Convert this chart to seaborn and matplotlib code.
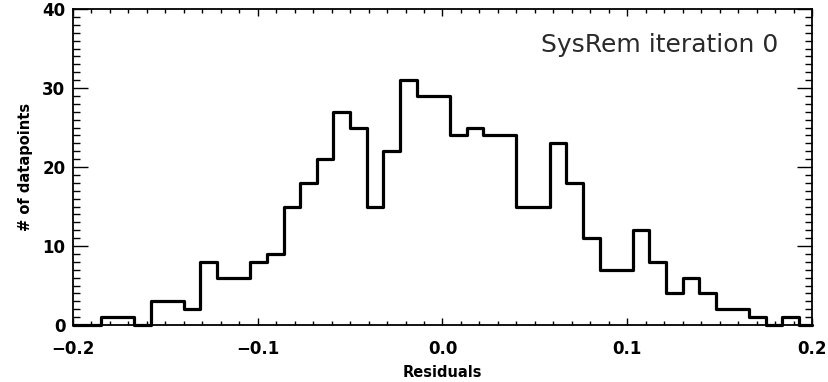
import numpy as np
import pandas as pd
import matplotlib
matplotlib.use("Agg")
import matplotlib.pyplot as plt
import seaborn as sns
from matplotlib.ticker import MultipleLocator

# ---- data ----
bin_start = -0.185
bin_width = 0.009
counts = [1, 1, 0, 3, 3, 2, 8, 6, 6, 8, 9, 15, 18, 21, 27, 25, 15, 22, 31, 29,
          29, 24, 25, 24, 24, 15, 15, 23, 18, 11, 7, 7, 12, 8, 4, 6, 4, 2, 2, 1,
          0, 1]
x_ticks = [-0.2, -0.1, 0.0, 0.1, 0.2]
x_ticklabels = ["\u22120.2", "\u22120.1", "0.0", "0.1", "0.2"]
y_ticks = [0, 10, 20, 30, 40]
title_text = "SysRem iteration 0"
xlabel = "Residuals"
ylabel = "# of datapoints"

inner_edges = bin_start + bin_width * np.arange(len(counts) + 1)
edges = [float(v) for v in np.concatenate([[x_ticks[0]], inner_edges, [x_ticks[-1]]])]
all_counts = [0] + counts + [0]
centers = [(a + b) / 2 for a, b in zip(edges[:-1], edges[1:])]
df = pd.DataFrame({"residual": centers, "n": all_counts})

sns.set_style("ticks")
plt.rcParams["font.family"] = ["DejaVu Sans"]
plt.rcParams["text.color"] = "black"
plt.rcParams["axes.labelcolor"] = "black"
plt.rcParams["xtick.color"] = "black"
plt.rcParams["ytick.color"] = "black"

fig = plt.figure(figsize=(8.29, 3.82), dpi=100)
ax = fig.add_axes([73 / 829, 1 - 325 / 382, (812 - 73) / 829, (325 - 9) / 382])

sns.histplot(data=df, x="residual", weights="n", bins=edges, element="step",
             fill=False, color="black", linewidth=2.3, ax=ax)
for coll in ax.collections + ax.lines + ax.patches:
    coll.set_clip_on(False)

ax.set_xlim(x_ticks[0], x_ticks[-1])
ax.set_ylim(y_ticks[0], y_ticks[-1])
ax.set_xticks(x_ticks)
ax.set_xticklabels(x_ticklabels)
ax.set_yticks(y_ticks)
ax.xaxis.set_minor_locator(MultipleLocator(0.01))
ax.yaxis.set_minor_locator(MultipleLocator(1))

for s in ax.spines.values():
    s.set_visible(True)
    s.set_linewidth(1.3)
    s.set_color("black")

ax.tick_params(axis="both", which="both", direction="in", top=True, right=True,
               color="black", labelcolor="black", width=1.0)
ax.tick_params(axis="x", which="major", length=5, pad=11)
ax.tick_params(axis="x", which="minor", length=3)
ax.tick_params(axis="y", which="major", length=11, pad=5.5)
ax.tick_params(axis="y", which="minor", length=5)
for lab in ax.get_xticklabels() + ax.get_yticklabels():
    lab.set_fontsize(12)
    lab.set_fontweight("bold")

ax.set_xlabel(xlabel, fontsize=10.5, fontweight="bold", labelpad=5, color="black")
ax.set_ylabel(ylabel, fontsize=10.5, fontweight="bold", labelpad=7, color="black")

ax.text(0.954, 0.864, title_text, transform=ax.transAxes, ha="right",
        va="baseline", fontsize=18, color="#2a2a2a")

fig.savefig("out.png", dpi=100)
